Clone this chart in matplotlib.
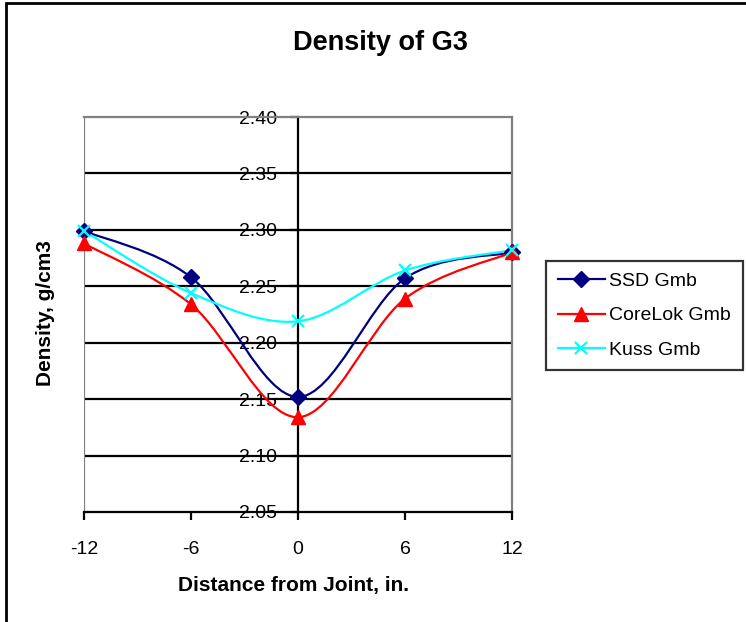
import matplotlib
matplotlib.use("Agg")
import matplotlib.pyplot as plt
from matplotlib.path import Path
from matplotlib.patches import PathPatch, Rectangle
from matplotlib.lines import Line2D
import numpy as np

plt.rcParams['font.family'] = ['Liberation Sans', 'DejaVu Sans']

distance = [-12, -6, 0, 6, 12]
ssd_gmb = [2.299, 2.258, 2.152, 2.257, 2.280]
corelok_gmb = [2.288, 2.234, 2.134, 2.239, 2.280]
kuss_gmb = [2.299, 2.244, 2.219, 2.264, 2.282]
y_ticks = [2.05, 2.10, 2.15, 2.20, 2.25, 2.30, 2.35, 2.40]
x_ticks = [-12, -6, 0, 6, 12]

W, H = 746, 622
fig = plt.figure(figsize=(W / 100, H / 100), dpi=100)
L, R, T, B = 84, 512, 117, 512
ax = fig.add_axes([L / W, 1 - B / H, (R - L) / W, (B - T) / H])

ax.set_xlim(-12, 12)
ax.set_ylim(2.05, 2.40)


def smooth_path(xs, ys):
    pts = np.column_stack([xs, ys]).astype(float)
    n = len(pts)
    verts = [pts[0]]
    codes = [Path.MOVETO]
    for i in range(n - 1):
        p0 = pts[i - 1] if i > 0 else pts[i]
        p1 = pts[i]
        p2 = pts[i + 1]
        p3 = pts[i + 2] if i + 2 < n else pts[i + 1]
        c1 = p1 + (p2 - p0) / 6.0
        c2 = p2 - (p3 - p1) / 6.0
        verts += [c1, c2, p2]
        codes += [Path.CURVE4] * 3
    return Path(verts, codes)


series = [
    ("SSD Gmb", ssd_gmb, "#000080", "D", 8, 1.0),
    ("CoreLok Gmb", corelok_gmb, "#FF0000", "^", 10, 1.0),
    ("Kuss Gmb", kuss_gmb, "#00FFFF", "x", 8, 1.6),
]

handles = []
for name, vals, col, mk, ms, mew in series:
    ax.add_patch(PathPatch(smooth_path(distance, vals), facecolor='none',
                           edgecolor=col, lw=1.6, zorder=3))
    ax.plot(distance, vals, linestyle='none', marker=mk, ms=ms, color=col,
            mec=col, mew=mew, zorder=4, clip_on=False)
    handles.append(Line2D([], [], color=col, lw=1.6, marker=mk, ms=ms,
                          mec=col, mew=mew))

# gridlines
for yv in y_ticks[1:-1]:
    ax.axhline(yv, color='black', lw=1.6, zorder=1)

# plot area border
for s in ['top', 'right']:
    ax.spines[s].set_color('#808080')
    ax.spines[s].set_linewidth(1.6)
ax.axvline(-12, color='#808080', lw=1.6, zorder=1)
ax.spines['left'].set_position(('data', 0))
ax.spines['left'].set_color('black')
ax.spines['left'].set_linewidth(1.6)
ax.spines['bottom'].set_color('black')
ax.spines['bottom'].set_linewidth(1.6)

ax.set_yticks(y_ticks)
ax.set_yticklabels([f"{v:.2f}" for v in y_ticks])
ax.set_xticks(x_ticks)
ax.set_xticklabels([str(v) for v in x_ticks])
ax.tick_params(axis='y', direction='out', length=6, width=1.6, pad=9,
               labelsize=14, colors='black')
ax.tick_params(axis='x', direction='out', length=6, width=1.6, pad=15,
               labelsize=14, colors='black')

fig.text(380 / W, 1 - 43 / H, "Density of G3", ha='center', va='center',
         fontsize=19.5, fontweight='bold')
fig.text(294 / W, 1 - 585 / H, "Distance from Joint, in.", ha='center',
         va='center', fontsize=15, fontweight='bold')
fig.text(46 / W, 1 - 313 / H, "Density, g/cm3", ha='center', va='center',
         rotation=90, fontsize=15, fontweight='bold')

leg = fig.legend(handles, [s[0] for s in series], loc='upper left',
                 bbox_to_anchor=(546 / W, 1 - 261 / H),
                 bbox_transform=fig.transFigure, borderaxespad=0,
                 fontsize=14, frameon=True, fancybox=False, handlelength=2.45,
                 labelspacing=0.85, borderpad=0.6, handletextpad=0.2)
leg.get_frame().set_edgecolor('black')
leg.get_frame().set_linewidth(1.6)

fig.patches.append(Rectangle((6 / W, -0.5), 2, 0.5 + 1 - 3 / H,
                             transform=fig.transFigure, fill=False,
                             edgecolor='black', lw=2))

fig.savefig("out.png", dpi=100)
